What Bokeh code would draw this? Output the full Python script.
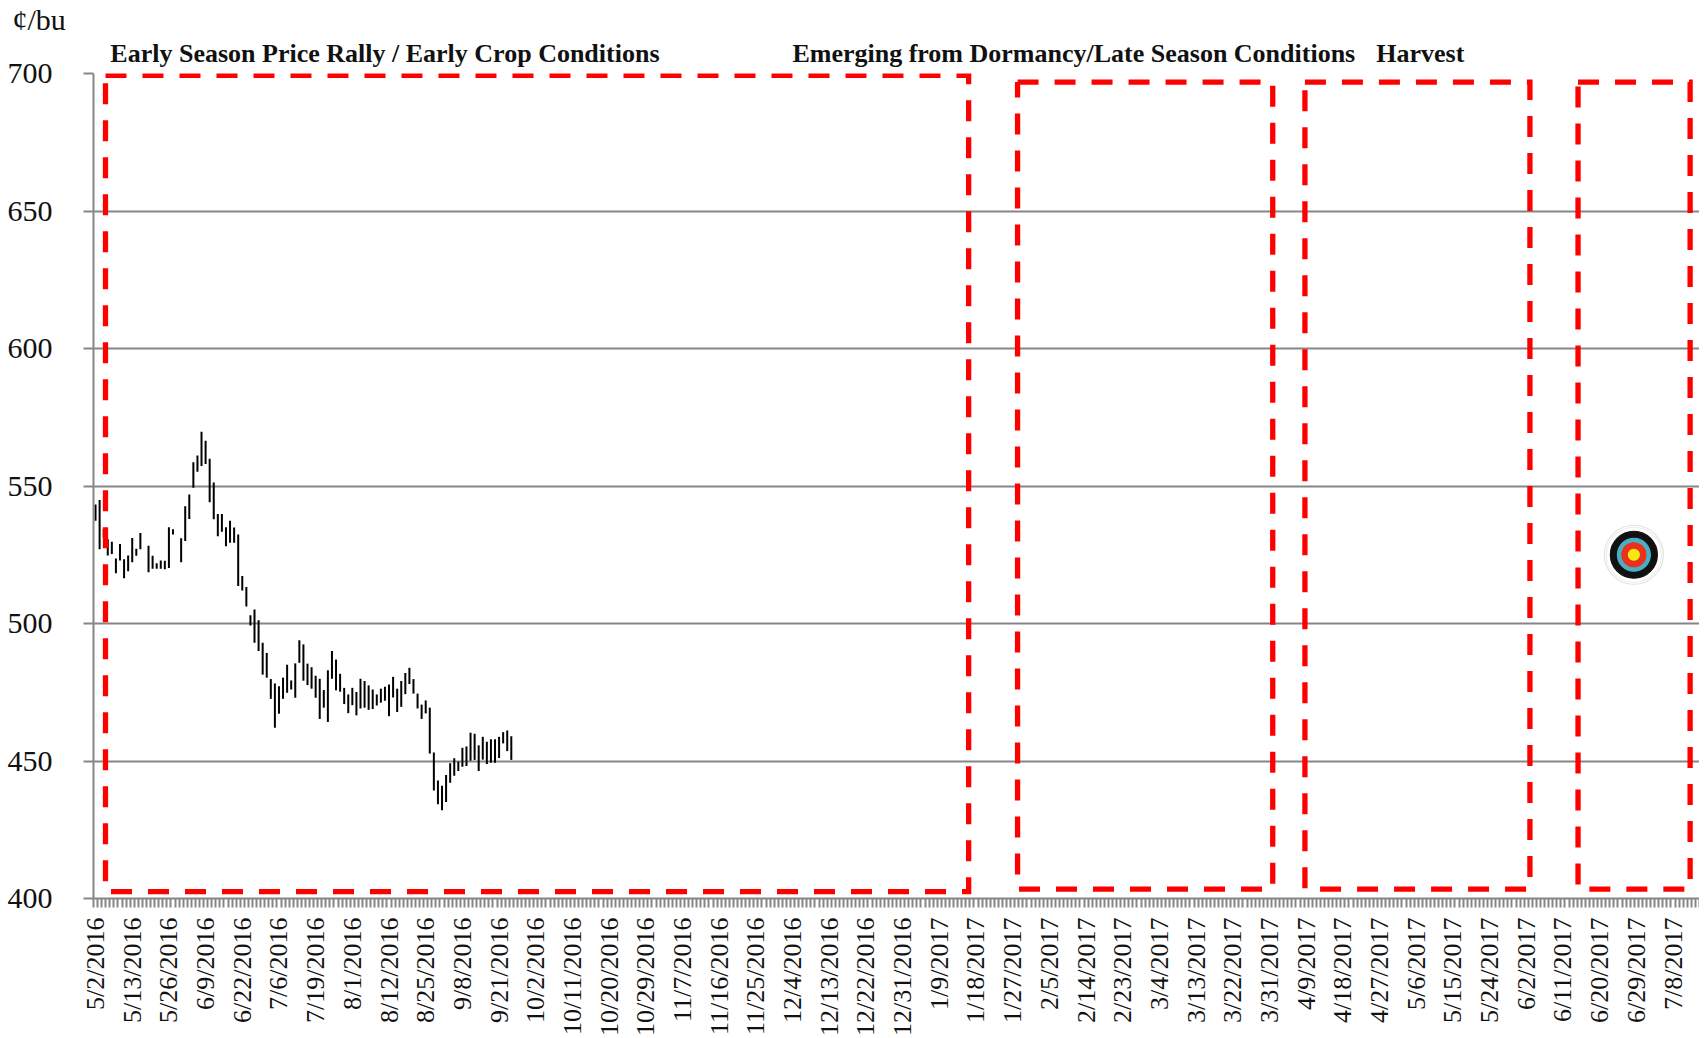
from math import pi
from bokeh.plotting import figure
from bokeh.models import Range1d, FixedTicker, LinearAxis, Title
from bokeh.embed import file_html
from bokeh.resources import INLINE

tick_labels = ["5/2/2016","5/13/2016","5/26/2016","6/9/2016","6/22/2016","7/6/2016","7/19/2016","8/1/2016",
    "8/12/2016","8/25/2016","9/8/2016","9/21/2016","10/2/2016","10/11/2016","10/20/2016","10/29/2016",
    "11/7/2016","11/16/2016","11/25/2016","12/4/2016","12/13/2016","12/22/2016","12/31/2016","1/9/2017",
    "1/18/2017","1/27/2017","2/5/2017","2/14/2017","2/23/2017","3/4/2017","3/13/2017","3/22/2017",
    "3/31/2017","4/9/2017","4/18/2017","4/27/2017","5/6/2017","5/15/2017","5/24/2017","6/2/2017",
    "6/11/2017","6/20/2017","6/29/2017","7/8/2017"]
n_categories = 394
label_step = 9

highs = [543.3,544.9,534.4,530.6,529.7,523.6,528.9,523.4,524.7,531.1,527.2,532.9,None,528.3,524.6,521.9,522.9,522.8,535,534.3,None,
    531,542.6,546.9,558.6,561.1,569.7,566.5,559.9,551.3,539.8,539.8,535,537.4,534.9,532.4,517.3,513.3,
    503,505.1,501.2,493,489.3,479.8,478.2,477.2,480.3,485,479.3,485.5,493.9,492.4,485.4,484.1,481,479.9,475.8,483,490,486.9,481.7,
    476.6,474.2,476.6,475.1,479.9,479.1,477.5,476,474.2,476.3,477,477.8,480.6,476.3,479.1,482,483.9,479.8,474.5,470.5,472,469.4,
    453.1,442.9,441,444.9,449.2,451,449.8,454.8,455.3,460.3,459.9,455.7,458.8,457,457.9,457.9,458.8,460.5,461.1,459]
lows = [537.4,527,531.2,524.7,525.3,518.3,522.9,516.5,519,522.3,524.6,527,None,518.6,519.9,519.9,519.9,519.7,520.2,532.4,None,
    522.3,530,538,549.4,555.2,557.3,558,544.1,537.9,531.7,533.4,528.1,529.4,529.4,513.6,512,506.2,
    499.3,493,490,481.4,480.3,472.6,462.1,467.2,472.6,474.8,476,473,485.7,479.2,477.6,476.3,473,465.3,469.4,464.2,479.9,475.7,475.2,
    470.7,467.4,470.3,466.6,469.1,469.4,468.6,468.9,470.2,471.2,471.9,466.3,473.1,467.8,469.7,474.3,478,474.5,469.1,465.3,467.3,452.7,
    439.3,434.3,432.1,435.1,442.1,444.6,446.4,447.9,448.2,450.1,450.4,446.4,450.5,448.9,449.4,449.4,451.1,456.4,453.6,450.4]

box_left = [2.44, 226.2, 296.7, 363.7]
box_right = [214.2, 288.8, 351.9, 391.2]
box_top = [699.3, 696.9, 696.9, 696.9]
box_bottom = [402.5, 403.4, 403.4, 403.4]

headings = ["Early Season Price Rally / Early Crop Conditions", "Emerging from Dormancy/Late Season Conditions", "Harvest"]
heading_centres = [71, 240, 325]
unit_label = "¢/bu"

target_x, target_y = 377.4, 525.0
ring_sizes = [59, 55, 47, 33, 24, 11]
ring_fills = ["#ffffff", "#ffffff", "#111111", "#4aaec4", "#e8321e", "#f6e812"]
ring_lines = ["#e2e2e2", "#eeeeee", "#111111", "#4aaec4", "#e8321e", "#f6e812"]

SERIF = "Liberation Serif"
GRAY = "#868686"
W, H = 1699, 1038

p = figure(width=W, height=H, output_backend="svg", toolbar_location=None,
           x_range=Range1d(-0.5, n_categories - 0.5), y_range=Range1d(400, 700),
           min_border_left=93, min_border_right=0, min_border_top=73, min_border_bottom=139,
           title=None)
p.outline_line_color = None
p.background_fill_color = "white"

p.xgrid.visible = False
p.ygrid.grid_line_color = GRAY
p.ygrid.grid_line_width = 2
p.yaxis.ticker = FixedTicker(ticks=[400, 450, 500, 550, 600, 650, 700])
p.yaxis.axis_line_color = GRAY
p.yaxis.axis_line_width = 2
p.yaxis.major_tick_line_color = GRAY
p.yaxis.major_tick_line_width = 2
p.yaxis.major_tick_out = 10
p.yaxis.major_tick_in = 0
p.yaxis.minor_tick_line_color = None
p.yaxis.major_label_standoff = 31
p.yaxis.major_label_text_font = SERIF
p.yaxis.major_label_text_font_size = "30px"
p.yaxis.major_label_text_color = "#111111"

label_pos = [i * label_step for i in range(len(tick_labels))]
p.xaxis.ticker = FixedTicker(ticks=label_pos, minor_ticks=[i - 0.5 for i in range(n_categories + 1)])
p.xaxis.major_label_overrides = dict(zip(label_pos, tick_labels))
p.xaxis.major_label_orientation = pi / 2
p.xaxis.axis_line_color = GRAY
p.xaxis.axis_line_width = 2
p.xaxis.major_tick_line_color = None
p.xaxis.major_tick_out = 9
p.xaxis.major_tick_in = 0
p.xaxis.minor_tick_line_color = GRAY
p.xaxis.minor_tick_line_width = 2
p.xaxis.minor_tick_out = 9
p.xaxis.minor_tick_in = 0
p.xaxis.major_label_standoff = 10
p.xaxis.major_label_text_font = SERIF
p.xaxis.major_label_text_font_size = "26px"
p.xaxis.major_label_text_color = "#111111"

xs, y0, y1 = [], [], []
for i, (h, l) in enumerate(zip(highs, lows)):
    if h is not None:
        xs.append(i); y0.append(l); y1.append(h)
p.segment(xs, y0, xs, y1, line_color="black", line_width=2)

for l, r, t, b in zip(box_left, box_right, box_top, box_bottom):
    p.line([l, r, r, l, l], [t, t, b, b, t], line_color="#ff0000", line_width=5.3,
           line_dash="21 16", line_join="miter", line_cap="butt")

for s, f, c in zip(ring_sizes, ring_fills, ring_lines):
    p.scatter([target_x], [target_y], size=s, fill_color=f, line_color=c, line_width=1.2)

head_axis = LinearAxis(ticker=FixedTicker(ticks=heading_centres, minor_ticks=[]),
                       major_label_overrides=dict(zip(heading_centres, headings)),
                       axis_line_color=None, major_tick_line_color=None, minor_tick_line_color=None,
                       major_tick_in=0, major_tick_out=0, minor_tick_in=0, minor_tick_out=0,
                       major_label_standoff=6, major_label_orientation="horizontal",
                       major_label_text_font=SERIF, major_label_text_font_style="bold",
                       major_label_text_font_size="26px", major_label_text_color="#111111")
p.add_layout(head_axis, "above")

p.add_layout(Title(text=unit_label, align="left", offset=-81, standoff=0, text_font=SERIF,
                   text_font_style="normal", text_font_size="30px", text_color="#111111"), "above")

open("out.html", "w").write(file_html(p, INLINE))
